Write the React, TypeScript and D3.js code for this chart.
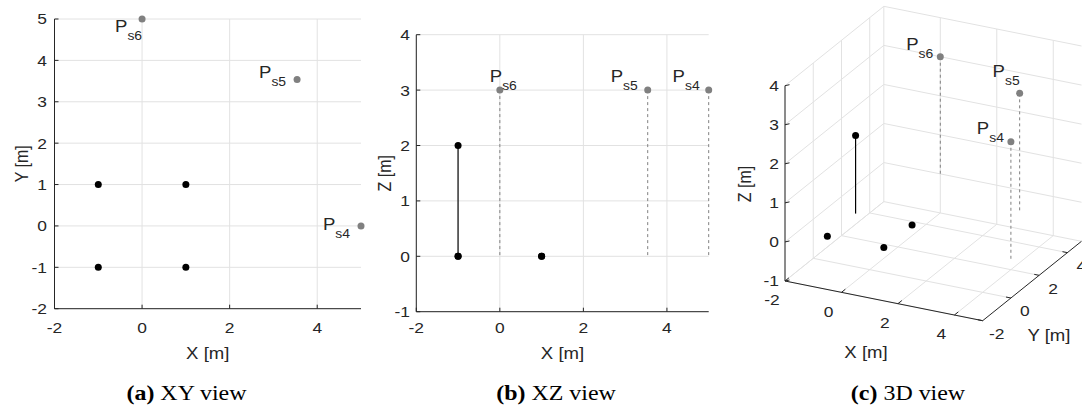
import React from "react";
import * as d3 from "d3";

// anchor points (black) and sensor points (grey), metres
const anchorX = [-1, 1, 1, -1];
const anchorY = [-1, -1, 1, 1];
const anchorZ = [0, 0, 0, 2];
const mastBaseZ = 0; // the last anchor sits on a mast from z = 0

const sensorNames = ["s4", "s5", "s6"];
const sensorX = [5, 3.54, 0];
const sensorY = [0, 3.54, 5];
const sensorZ = [3, 3, 3];

const xTicks = [-2, 0, 2, 4];
const yTicksXY = [-2, -1, 0, 1, 2, 3, 4, 5];
const zTicksXZ = [-1, 0, 1, 2, 3, 4];
const xyTicks3D = [-2, 0, 2, 4];
const zTicks3D = [-1, 0, 1, 2, 3, 4];

const xDomain = [-2, 5];
const yDomain = [-2, 5];
const zDomain = [-1, 4];

const captions = [
  { tag: "(a)", text: "XY view" },
  { tag: "(b)", text: "XZ view" },
  { tag: "(c)", text: "3D view" },
];

const GRID = "#e2e2e2";
const AXIS = "#262626";
const GREY = "#808080";
const SANS = "'Liberation Sans', Arial, sans-serif";
const STRETCH = 1.16; // the figure is a little wider than tall

// label offsets per panel (text-anchor end, P baseline relative to point)
const labelOffA: Record<string, [number, number]> = { s4: [-11, 4], s5: [-11, -1], s6: [0, 13] };
const labelOffB: Record<string, [number, number]> = { s4: [-9, -8], s5: [-10, -8], s6: [17, -8] };
const labelOffC: Record<string, [number, number]> = { s4: [-7, -8], s5: [0, -16], s6: [-7, -7] };

type TProps = {
  x: number;
  y: number;
  anchor?: string;
  size?: number;
  rotate?: boolean;
  mid?: boolean;
  children: React.ReactNode;
};

const T = ({ x, y, anchor = "middle", size = 15, rotate = false, mid = false, children }: TProps) => (
  <text
    transform={
      rotate
        ? `translate(${x},${y}) rotate(-90) scale(1,${STRETCH})`
        : `translate(${x},${y}) scale(${STRETCH},1)`
    }
    dy={mid ? "0.36em" : undefined}
    textAnchor={anchor}
    fontFamily={SANS}
    fontSize={size}
    fill={AXIS}
  >
    {children}
  </text>
);

const SensorLabel = ({ x, y, name }: { x: number; y: number; name: string }) => (
  <T x={x} y={y} anchor="end" size={16}>
    P
    <tspan fontSize={12} dy={8}>
      {name}
    </tspan>
  </T>
);

const App = () => {
  // panel (a) XY
  const xA = d3.scaleLinear().domain(xDomain).range([54.5, 361]);
  const yA = d3.scaleLinear().domain(yDomain).range([308.7, 19]);
  // panel (b) XZ
  const xB = d3.scaleLinear().domain(xDomain).range([416.3, 708.7]);
  const zB = d3.scaleLinear().domain(zDomain).range([311.7, 34.7]);

  // panel (c) 3D
  const ang = Math.atan(0.5);
  const unit = 31.57;
  const elev = 0.4016;
  const sx3 = d3.scaleLinear().domain(xDomain).range([0, 7 * unit]);
  const sy3 = d3.scaleLinear().domain(yDomain).range([0, 7 * unit]);
  const sz3 = d3.scaleLinear().domain(zDomain).range([0, 195.3]);
  const ox = 785, oy = 281;
  const proj = (x: number, y: number, z: number): [number, number] => {
    const u = sx3(x), v = sy3(y);
    return [
      ox + u * Math.cos(ang) + v * Math.sin(ang),
      oy + (u * Math.sin(ang) - v * Math.cos(ang)) * elev - sz3(z),
    ];
  };
  const seg = (a: [number, number], b: [number, number], key: string, stroke: string, extra: any = {}) => (
    <line key={key} x1={a[0]} y1={a[1]} x2={b[0]} y2={b[1]} stroke={stroke} {...extra} />
  );

  const [x0, x1] = xDomain, [y0, y1] = yDomain, [z0, z1] = zDomain;
  const grid3D: JSX.Element[] = [];
  // floor z = z0
  xyTicks3D.forEach((t) => {
    grid3D.push(seg(proj(t, y0, z0), proj(t, y1, z0), `fx${t}`, GRID));
    grid3D.push(seg(proj(x0, t, z0), proj(x1, t, z0), `fy${t}`, GRID));
  });
  // left wall x = x0
  xyTicks3D.forEach((t) => grid3D.push(seg(proj(x0, t, z0), proj(x0, t, z1), `ly${t}`, GRID)));
  zTicks3D.forEach((t) => grid3D.push(seg(proj(x0, y0, t), proj(x0, y1, t), `lz${t}`, GRID)));
  // back wall y = y1
  xyTicks3D.forEach((t) => grid3D.push(seg(proj(t, y1, z0), proj(t, y1, z1), `bx${t}`, GRID)));
  zTicks3D.forEach((t) => grid3D.push(seg(proj(x0, y1, t), proj(x1, y1, t), `bz${t}`, GRID)));

  const tickLen = 5;
  const axes3D: JSX.Element[] = [];
  axes3D.push(seg(proj(x0, y0, z0), proj(x0, y0, z1), "zax", AXIS));
  axes3D.push(seg(proj(x0, y0, z0), proj(x1, y0, z0), "xax", AXIS));
  axes3D.push(seg(proj(x1, y0, z0), proj(x1, y1, z0), "yax", AXIS));
  xyTicks3D.forEach((t) => {
    const p = proj(t, y0, z0);
    const d = [Math.sin(ang), -Math.cos(ang) * elev];
    const n = Math.hypot(d[0], d[1]);
    axes3D.push(seg(p, [p[0] + (d[0] / n) * tickLen, p[1] + (d[1] / n) * tickLen], `xt${t}`, AXIS));
    const q = proj(x1, t, z0);
    const e = [-Math.cos(ang), -Math.sin(ang) * elev];
    const m = Math.hypot(e[0], e[1]);
    axes3D.push(seg(q, [q[0] + (e[0] / m) * tickLen, q[1] + (e[1] / m) * tickLen], `yt${t}`, AXIS));
  });
  zTicks3D.forEach((t) => {
    const p = proj(x0, y0, t);
    axes3D.push(seg(p, [p[0] + tickLen * 0.9, p[1] - tickLen * 0.2], `zt${t}`, AXIS));
  });

  const captionX = [186.5, 556, 908];

  return (
    <svg width={1082} height={407} style={{ position: "absolute", left: 0, top: 0, background: "#fff" }}>
      {/* ---------- (a) XY view ---------- */}
      <g>
        {xTicks.map((t) => (
          <line key={`ga${t}`} x1={xA(t)} x2={xA(t)} y1={yA(y0)} y2={yA(y1)} stroke={GRID} />
        ))}
        {yTicksXY.map((t) => (
          <line key={`gay${t}`} x1={xA(x0)} x2={xA(x1)} y1={yA(t)} y2={yA(t)} stroke={GRID} />
        ))}
        <line x1={xA(x0)} x2={xA(x0)} y1={yA(y0)} y2={yA(y1)} stroke={AXIS} />
        <line x1={xA(x0)} x2={xA(x1)} y1={yA(y0)} y2={yA(y0)} stroke={AXIS} />
        {xTicks.map((t) => (
          <g key={`ta${t}`}>
            <line x1={xA(t)} x2={xA(t)} y1={yA(y0)} y2={yA(y0) - 4} stroke={AXIS} />
            <T x={xA(t)} y={333}>{t}</T>
          </g>
        ))}
        {yTicksXY.map((t) => (
          <g key={`tay${t}`}>
            <line x1={xA(x0)} x2={xA(x0) + 4} y1={yA(t)} y2={yA(t)} stroke={AXIS} />
            <T x={47} y={yA(t)} anchor="end" mid>{t}</T>
          </g>
        ))}
        <T x={xA(1.5)} y={359} size={16}>X [m]</T>
        <T x={28} y={yA(1.5)} size={16} rotate>Y [m]</T>
        {anchorX.map((x, i) => (
          <circle key={`aa${i}`} cx={xA(x)} cy={yA(anchorY[i])} r={3.5} fill="#000" />
        ))}
        {sensorX.map((x, i) => (
          <g key={`sa${i}`}>
            <circle cx={xA(x)} cy={yA(sensorY[i])} r={3.5} fill={GREY} />
            <SensorLabel
              x={xA(x) + labelOffA[sensorNames[i]][0]}
              y={yA(sensorY[i]) + labelOffA[sensorNames[i]][1]}
              name={sensorNames[i]}
            />
          </g>
        ))}
      </g>

      {/* ---------- (b) XZ view ---------- */}
      <g>
        {xTicks.map((t) => (
          <line key={`gb${t}`} x1={xB(t)} x2={xB(t)} y1={zB(z0)} y2={zB(z1)} stroke={GRID} />
        ))}
        {zTicksXZ.map((t) => (
          <line key={`gbz${t}`} x1={xB(x0)} x2={xB(x1)} y1={zB(t)} y2={zB(t)} stroke={GRID} />
        ))}
        <line x1={xB(x0)} x2={xB(x0)} y1={zB(z0)} y2={zB(z1)} stroke={AXIS} />
        <line x1={xB(x0)} x2={xB(x1)} y1={zB(z0)} y2={zB(z0)} stroke={AXIS} />
        {xTicks.map((t) => (
          <g key={`tb${t}`}>
            <line x1={xB(t)} x2={xB(t)} y1={zB(z0)} y2={zB(z0) - 4} stroke={AXIS} />
            <T x={xB(t)} y={333}>{t}</T>
          </g>
        ))}
        {zTicksXZ.map((t) => (
          <g key={`tbz${t}`}>
            <line x1={xB(x0)} x2={xB(x0) + 4} y1={zB(t)} y2={zB(t)} stroke={AXIS} />
            <T x={410} y={zB(t)} anchor="end" mid>{t}</T>
          </g>
        ))}
        <T x={xB(1.5)} y={359} size={16}>X [m]</T>
        <T x={391} y={zB(1.5)} size={16} rotate>Z [m]</T>
        <line
          x1={xB(anchorX[3])}
          x2={xB(anchorX[3])}
          y1={zB(mastBaseZ)}
          y2={zB(anchorZ[3])}
          stroke="#333"
          strokeWidth={1.5}
        />
        {sensorX.map((x, i) => (
          <line
            key={`db${i}`}
            x1={xB(x)}
            x2={xB(x)}
            y1={zB(sensorZ[i])}
            y2={zB(0)}
            stroke={GREY}
            strokeDasharray="3,3"
          />
        ))}
        {anchorX.map((x, i) => (
          <circle key={`ab${i}`} cx={xB(x)} cy={zB(anchorZ[i])} r={3.5} fill="#000" />
        ))}
        <circle cx={xB(anchorX[3])} cy={zB(mastBaseZ)} r={3.5} fill="#000" />
        {sensorX.map((x, i) => (
          <g key={`sb${i}`}>
            <circle cx={xB(x)} cy={zB(sensorZ[i])} r={3.5} fill={GREY} />
            <SensorLabel
              x={xB(x) + labelOffB[sensorNames[i]][0]}
              y={zB(sensorZ[i]) + labelOffB[sensorNames[i]][1]}
              name={sensorNames[i]}
            />
          </g>
        ))}
      </g>

      {/* ---------- (c) 3D view ---------- */}
      <g>
        {grid3D}
        {axes3D}
        {xyTicks3D.map((t) => {
          const p = proj(t, y0, z0);
          return (
            <T key={`lx${t}`} x={p[0] - 13} y={p[1] + 19} mid>{t}</T>
          );
        })}
        {xyTicks3D.map((t) => {
          const p = proj(x1, t, z0);
          return (
            <T key={`ly${t}`} x={p[0] + 14} y={p[1] + 13} mid>{t}</T>
          );
        })}
        {zTicks3D.map((t) => {
          const p = proj(x0, y0, t);
          return (
            <T key={`lz${t}`} x={p[0] - 6} y={p[1]} anchor="end" mid>{t}</T>
          );
        })}
        <T x={866} y={358} size={16}>X [m]</T>
        <T x={1049} y={341} size={16}>Y [m]</T>
        <T x={751} y={184} size={16} rotate>Z [m]</T>
        {seg(proj(anchorX[3], anchorY[3], mastBaseZ), proj(anchorX[3], anchorY[3], anchorZ[3]), "mast", "#000", { strokeWidth: 1.2 })}
        {sensorX.map((x, i) =>
          seg(proj(x, sensorY[i], sensorZ[i]), proj(x, sensorY[i], 0), `dc${i}`, GREY, { strokeDasharray: "3,3" })
        )}
        {anchorX.map((x, i) => {
          const p = proj(x, anchorY[i], anchorZ[i]);
          return <circle key={`ac${i}`} cx={p[0]} cy={p[1]} r={3.5} fill="#000" />;
        })}
        {sensorX.map((x, i) => {
          const p = proj(x, sensorY[i], sensorZ[i]);
          const off = labelOffC[sensorNames[i]];
          return (
            <g key={`sc${i}`}>
              <circle cx={p[0]} cy={p[1]} r={3.5} fill={GREY} />
              <SensorLabel x={p[0] + off[0]} y={p[1] + off[1]} name={sensorNames[i]} />
            </g>
          );
        })}
      </g>

      {/* ---------- captions ---------- */}
      {captions.map((c, i) => (
        <text
          key={c.tag}
          transform={`translate(${captionX[i]},400) scale(1.14,1)`}
          textAnchor="middle"
          fontFamily="'Liberation Serif', 'Times New Roman', serif"
          fontSize={21}
          fill="#000"
        >
          <tspan fontWeight="bold">{c.tag}</tspan> {c.text}
        </text>
      ))}
    </svg>
  );
};

export default App;
